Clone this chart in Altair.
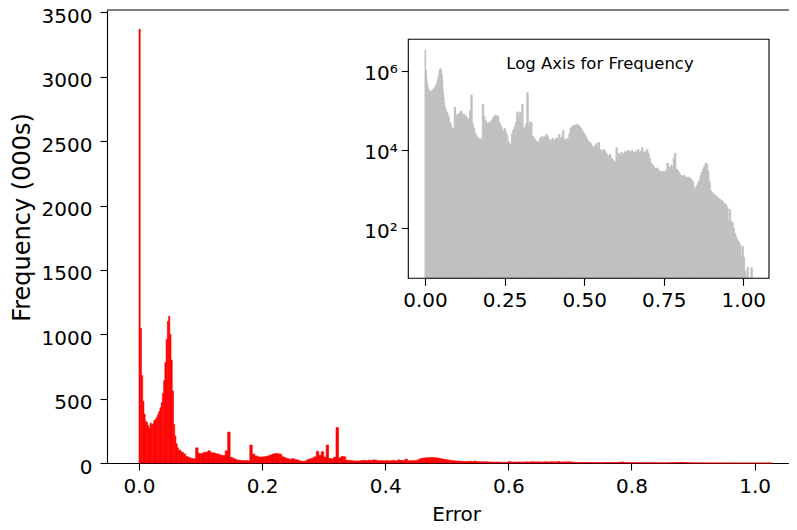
import altair as alt
import pandas as pd

# ---- histogram data (raw counts per bin) ----
fine_start = 0.0
fine_width = 0.002
counts_fine = [3370000, 1045000, 680000, 480000, 380000, 325000, 315000, 290000,
               270000, 310000, 300000, 305000, 330000, 340000, 355000, 375000,
               400000, 430000, 470000, 540000, 640000, 780000, 960000, 1100000,
               1140000, 1000000, 800000, 560000, 300000, 210000, 150000, 118000]

coarse_start = 0.064
coarse_width = 0.004
counts_coarse = [
    100000, 85000, 70000, 50000, 42000, 35000, 32000, 118000, 75000, 72000,
    82000, 85000, 95000, 80000, 78000, 72000, 68000, 60000, 58000, 95000,
    240000, 45000, 35000, 26000, 22000, 20000, 18000, 19000, 17000, 140000,
    70000, 55000, 48000, 46000, 48000, 50000, 55000, 62000, 70000, 74000,
    72000, 68000, 48000, 40000, 33000, 28000, 34000, 27000, 23000, 16000,
    13000, 14000, 25000, 32000, 38000, 48000, 90000, 60000, 88000, 45000,
    140000, 36000, 32000, 45000, 275000, 40000, 50000, 48000, 22000, 20000,
    18000, 16000, 15000, 16000, 19000, 21000, 18000, 22000, 20000, 24000,
    21000, 17000, 18000, 16000, 19000, 17000, 18000, 20000, 16000, 24000,
    19000, 20000, 30000, 18000, 17000, 19000, 18000, 25000, 34000, 38000,
    40000, 41000, 42000, 43000, 41000, 38000, 34000, 30000, 27000, 24000,
    21000, 18000, 16000, 15000, 14000, 12000, 11000, 12000, 14000, 11000,
    15000, 10000, 9500, 9000, 10000, 9000, 8000, 7000, 6500, 7500,
    6000, 5500, 4800, 5000, 11000, 6000, 8000, 7000, 8500, 7000,
    8000, 9000, 8000, 9500, 9000, 8500, 9500, 8000, 8500, 9000,
    8000, 10000, 8500, 9000, 11000, 8000, 9000, 8500, 10000, 8000,
    6000, 4500, 4200, 3800, 3300, 3200, 3400, 3000, 2800, 2700,
    2800, 2700, 2800, 2900, 4500, 3600, 3400, 4000, 3500, 6000,
    8000, 3200, 3000, 2600, 2300, 2200, 2100, 2200, 2000, 2000,
    1900, 2000, 1800, 1700, 1500, 1100, 1000, 1200, 1400, 1600,
    2200, 2600, 3200, 3800, 4500, 4200, 2800, 1500, 900, 800,
    750, 700, 680, 620, 580, 550, 520, 500, 450, 420,
    400, 340, 150, 300, 150, 140, 100, 74, 60, 50,
    45, 38, 20, 35, 18, 8, 0, 10, 0, 0,
    10]

main_x_ticks = [0.0, 0.2, 0.4, 0.6, 0.8, 1.0]
main_y_ticks = [0, 500, 1000, 1500, 2000, 2500, 3000, 3500]
inset_x_ticks = [0.0, 0.25, 0.5, 0.75, 1.0]
inset_y_ticks = [100, 10000, 1000000]

lo, hi, cnt = [], [], []
for i, c in enumerate(counts_fine):
    lo.append(round(fine_start + i * fine_width, 6))
    hi.append(round(fine_start + (i + 1) * fine_width, 6))
    cnt.append(c)
for i, c in enumerate(counts_coarse):
    lo.append(round(coarse_start + i * coarse_width, 6))
    hi.append(round(coarse_start + (i + 1) * coarse_width, 6))
    cnt.append(c)

df = pd.DataFrame({"lo": lo, "hi": hi, "count": cnt})
df["k"] = df["count"] / 1000.0
df_inset = df[df["count"] > 0].reset_index(drop=True)
one = pd.DataFrame({"a": [1]})

FONT = "DejaVu Sans"
W, H = 682, 453
LW = 1.1

# inset geometry (pixels inside the main plot area)
IX0, IX1 = 301.3, 662.0
IY0, IY1 = 29.3, 268.3

axis_common = dict(
    grid=False, tickSize=7, tickWidth=LW, tickColor="black",
    domainColor="black", domainWidth=LW,
    labelFont=FONT, labelFontSize=20, labelColor="black",
    labelOverlap=False, labelFlush=False, labelBound=False,
    titleFont=FONT, titleColor="black", titleFontWeight="normal",
)

main = alt.Chart(df).mark_bar(color="#ff0000", stroke="#ff0000", strokeWidth=0.6).encode(
    x=alt.X("lo:Q",
            scale=alt.Scale(domain=[-0.052, 1.0559], nice=False, zero=False),
            axis=alt.Axis(orient="bottom", values=main_x_ticks, format=".1f",
                          title="Error", titleFontSize=20, titleBaseline="alphabetic",
                          titleX=349, titleY=57, titleAlign="center",
                          labelPadding=6, **axis_common)),
    x2="hi:Q",
    y=alt.Y("k:Q", stack=None,
            scale=alt.Scale(domain=[0, 3519], nice=False, zero=True),
            axis=alt.Axis(orient="left", values=main_y_ticks, format="d",
                          title="Frequency (000s)", titleFontSize=24,
                          titleAngle=270, titleBaseline="middle", titleAlign="center",
                          titleX=-85, titleY=207, labelPadding=8, labelOffset=4,
                          **axis_common)),
    y2=alt.datum(0),
)

top_spine = alt.Chart(one).mark_rule(color="black", strokeWidth=LW).encode(
    x=alt.value(0), x2=alt.value(W), y=alt.value(0)
)

inset_bg = alt.Chart(one).mark_rect(fill="white", strokeWidth=0).encode(
    x=alt.value(IX0), x2=alt.value(IX1), y=alt.value(IY0), y2=alt.value(IY1)
)

inset = alt.Chart(df_inset).mark_bar(color="#c0c0c0", stroke="#c0c0c0", strokeWidth=1.0).encode(
    x=alt.X("lo:Q",
            scale=alt.Scale(domain=[-0.0525, 1.0807], range=[IX0, IX1], nice=False, zero=False),
            axis=alt.Axis(orient="bottom", offset=-(H - IY1), values=inset_x_ticks,
                          format=".2f", title="", domain=False, labelPadding=5,
                          zindex=1, **axis_common)),
    x2="hi:Q",
    y=alt.Y("count:Q", stack=None,
            scale=alt.Scale(type="log", domain=[5.38, 6.27e6], range=[IY1, IY0], nice=False),
            axis=alt.Axis(orient="left", offset=-IX0, values=inset_y_ticks,
                          labelExpr="datum.value >= 1000000 ? '10⁶' : (datum.value >= 10000 ? '10⁴' : '10²')",
                          title="", domain=False, labelPadding=4, labelOffset=3,
                          zindex=1, **axis_common)),
    y2=alt.value(IY1),
)

inset_frame = alt.Chart(one).mark_rect(fillOpacity=0, stroke="black", strokeWidth=LW).encode(
    x=alt.value(IX0), x2=alt.value(IX1), y=alt.value(IY0), y2=alt.value(IY1)
)

inset_title = alt.Chart(one).mark_text(
    text="Log Axis for Frequency", font=FONT, fontSize=16.5, color="black",
    align="center", baseline="middle"
).encode(x=alt.value(493), y=alt.value(53.5))

chart = alt.layer(
    main, top_spine, inset_bg, inset, inset_frame, inset_title
).resolve_scale(
    x="independent", y="independent"
).properties(
    width=W, height=H,
    padding={"left": 99, "top": 2, "right": 0, "bottom": 59},
    autosize=alt.AutoSizeParams(type="none"),
    background="white",
).configure_view(stroke="transparent")

chart.save("out.html", embed_options={"renderer": "svg", "actions": False})
